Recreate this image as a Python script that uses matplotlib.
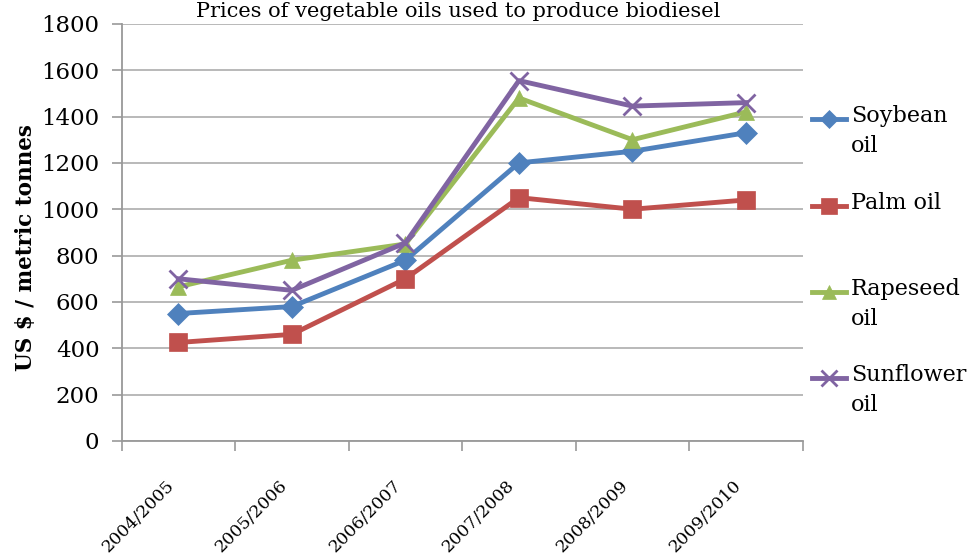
import numpy as np
import matplotlib
matplotlib.use("Agg")
import matplotlib.pyplot as plt
from matplotlib.lines import Line2D
from matplotlib.transforms import ScaledTranslation

# data
years = ['2004/2005', '2005/2006', '2006/2007', '2007/2008', '2008/2009', '2009/2010']
soybean = [550, 580, 780, 1200, 1250, 1330]
palm = [425, 460, 700, 1050, 1000, 1040]
rapeseed = [665, 780, 850, 1480, 1300, 1420]
sunflower = [700, 650, 855, 1555, 1445, 1460]

labels = ['Soybean\noil', 'Palm oil', 'Rapeseed\noil', 'Sunflower\noil']
colors = ['#4F81BD', '#C0504D', '#9BBB59', '#8064A2']
markers = ['D', 's', '^', 'x']
msizes = [11, 13, 12, 13]

plt.rcParams['font.family'] = ['DejaVu Serif']

fig = plt.figure(figsize=(9.73, 5.54), dpi=100)
ax = fig.add_axes([0.125, 0.204, 0.7, 0.753])

x = np.arange(len(years))
for vals, c, m, ms in zip([soybean, palm, rapeseed, sunflower], colors, markers, msizes):
    ax.plot(x, vals, color=c, lw=3.5, marker=m, markersize=ms,
            markeredgewidth=2 if m == 'x' else 0.5, markeredgecolor=c, zorder=3)

ax.set_xlim(-0.5, len(years) - 0.5)
ax.set_ylim(0, 1800)
ax.set_yticks(np.arange(0, 1801, 200))
ax.grid(axis='y', color='#b3b3b3', lw=1.3)
ax.set_axisbelow(True)

ax.set_xticks(x)
ax.set_xticklabels(years, rotation=45, ha='right', va='center',
                   rotation_mode='anchor', fontsize=12.5)
ax.set_xticks(np.arange(-0.5, len(years)), minor=True)
ax.tick_params(axis='x', which='major', length=0, pad=30)
ax.tick_params(axis='x', which='minor', length=7, color='#999999', width=1.2)
ax.tick_params(axis='y', length=7, color='#999999', width=1.2, labelsize=16.5, pad=9)
shift = ScaledTranslation(-0.07, 0, fig.dpi_scale_trans)
for lbl in ax.get_xticklabels():
    lbl.set_transform(lbl.get_transform() + shift)

for s in ['top', 'right']:
    ax.spines[s].set_visible(False)
for s in ['left', 'bottom']:
    ax.spines[s].set_color('#999999')
    ax.spines[s].set_linewidth(1.3)

ax.set_ylabel('US $ / metric tonnes', fontsize=15.5, fontweight='bold')
ax.yaxis.set_label_coords(-0.124, 0.463)

fig.text(0.471, 1 - 17 / 554, 'Prices of vegetable oils used to produce biodiesel',
         ha='center', va='baseline', fontsize=15)

# legend drawn by hand to the right of the plot
W, H = 973, 554
leg_y = [119, 206, 292, 378]
for lab, c, m, ms, yy in zip(labels, colors, markers, msizes, leg_y):
    fy = 1 - yy / H
    fig.add_artist(Line2D([812 / W, 846 / W], [fy, fy], color=c, lw=3.5))
    fig.add_artist(Line2D([829 / W], [fy], color=c, marker=m, markersize=ms - 2,
                          markeredgewidth=2 if m == 'x' else 0.5, markeredgecolor=c))
    fig.text(851 / W, 1 - (yy - 14) / H, lab, ha='left', va='top', fontsize=16,
             linespacing=1.45)

fig.savefig('out.png', dpi=100)
